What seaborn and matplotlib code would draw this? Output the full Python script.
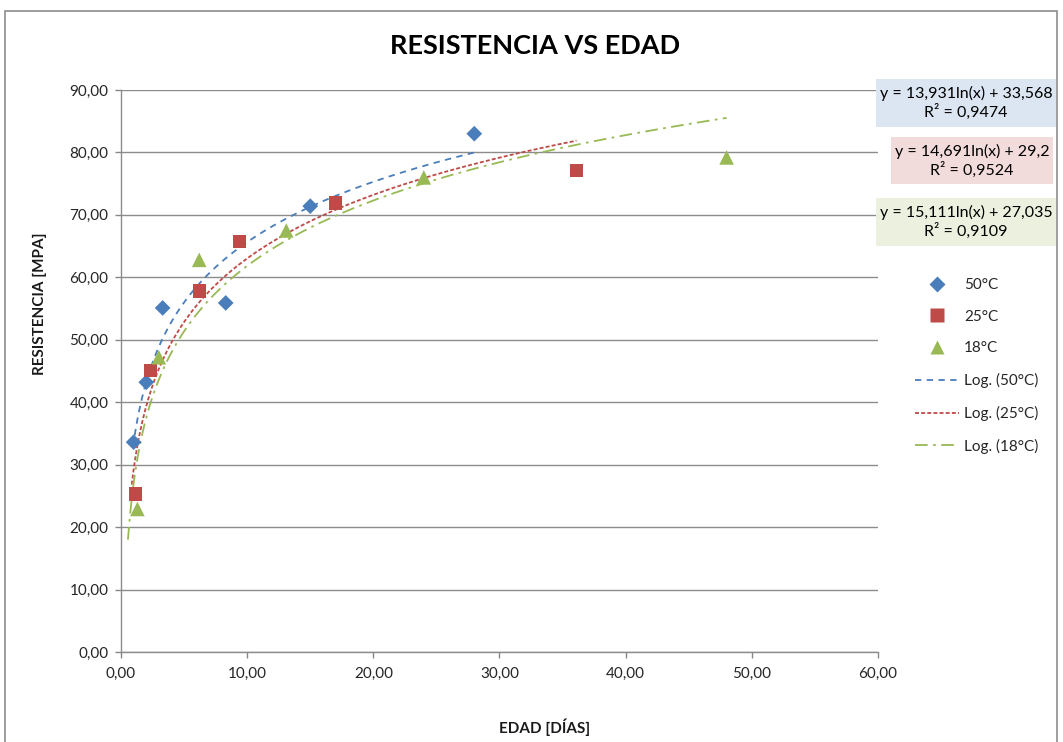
import numpy as np
import pandas as pd
import matplotlib
matplotlib.use("Agg")
from matplotlib import pyplot as plt
from matplotlib.lines import Line2D
from matplotlib.patches import Rectangle
from matplotlib.ticker import FuncFormatter, MultipleLocator
import seaborn as sns

# --- data ---
series_names = ["50°C", "25°C", "18°C"]

edad_50 = [1.0, 2.0, 3.3, 8.3, 15.0, 28.0]
res_50 = [33.6, 43.2, 55.1, 55.9, 71.4, 83.0]

edad_25 = [1.14, 2.35, 6.2, 9.4, 17.0, 36.1]
res_25 = [25.3, 45.1, 57.8, 65.8, 71.9, 77.1]

edad_18 = [1.3, 3.0, 6.2, 13.1, 24.0, 48.0]
res_18 = [22.9, 47.2, 62.8, 67.5, 76.0, 79.2]

# logarithmic trendlines y = a ln(x) + b as printed on the chart
slopes = [13.931, 14.691, 15.111]
intercepts = [33.568, 29.2, 27.035]
r2_values = [0.9474, 0.9524, 0.9109]
trend_start = [0.95, 0.85, 0.55]

colors = ["#4a7ebb", "#be4b48", "#98b954"]
box_colors = ["#dce6f2", "#f2dcdb", "#ebf1de"]
markers = ["D", "s", "^"]
marker_sizes = [64, 90, 110]
dash_styles = [(0, (3.5, 3)), (0, (2.2, 1.2)), (0, (7, 3, 1.5, 3))]

sns.set_theme(style="white")
plt.rcParams["font.family"] = ["Lato", "DejaVu Sans"]

W, H = 1063, 742
fig = plt.figure(figsize=(W / 100, H / 100), dpi=100)
ax = fig.add_axes([121 / W, 1 - 652 / H, (878 - 121) / W, (652 - 90) / H])

frames = []
for name, x, y in zip(series_names, [edad_50, edad_25, edad_18], [res_50, res_25, res_18]):
    frames.append(pd.DataFrame({"edad": x, "resistencia": y, "serie": name}))
df = pd.concat(frames, ignore_index=True)

# trendlines
for i, name in enumerate(series_names):
    x_max = df.loc[df["serie"] == name, "edad"].max()
    xs = np.linspace(trend_start[i], x_max, 300)
    ys = slopes[i] * np.log(xs) + intercepts[i]
    ax.plot(xs, ys, color=colors[i], lw=1.3, linestyle=dash_styles[i], zorder=2)

# points
for i, name in enumerate(series_names):
    sns.scatterplot(
        data=df[df["serie"] == name],
        x="edad",
        y="resistencia",
        marker=markers[i],
        color=colors[i],
        s=marker_sizes[i],
        edgecolor="none",
        ax=ax,
        zorder=3,
        legend=False,
    )

ax.set_xlim(0, 60)
ax.set_ylim(0, 90)
ax.xaxis.set_major_locator(MultipleLocator(10))
ax.yaxis.set_major_locator(MultipleLocator(10))
fmt = FuncFormatter(lambda v, p: f"{v:.2f}".replace(".", ","))
ax.xaxis.set_major_formatter(fmt)
ax.yaxis.set_major_formatter(fmt)
ax.tick_params(axis="both", labelsize=11, colors="#262626", length=4, width=1,
               direction="out", bottom=True, left=True)
ax.tick_params(axis="x", pad=7, color="#868686")
ax.tick_params(axis="y", pad=5, color="#868686")
ax.grid(axis="y", color="#8c8c8c", lw=1)
ax.set_axisbelow(True)
for s in ["top", "right"]:
    ax.spines[s].set_visible(False)
for s in ["left", "bottom"]:
    ax.spines[s].set_color("#8c8c8c")
    ax.spines[s].set_linewidth(1)

ax.set_xlabel("")
ax.set_ylabel("")
fig.text(545 / W, 1 - 727 / H, "EDAD [DÍAS]", ha="center", va="center",
         fontsize=11, fontweight="bold", color="#1a1a1a")
fig.text(40 / W, 1 - 304 / H, "RESISTENCIA [MPA]", ha="center", va="center",
         rotation=90, fontsize=11, fontweight="bold", color="#1a1a1a")
fig.text(535 / W, 1 - 46 / H, "RESISTENCIA VS EDAD", ha="center", va="center",
         fontsize=19.5, fontweight="bold", color="#000000")

# equation boxes
boxes = [(876, 79, 1056, 127), (891, 137, 1053, 184), (876, 198, 1056, 246)]
for i, (x0, y0, x1, y1) in enumerate(boxes):
    fig.patches.append(Rectangle((x0 / W, 1 - y1 / H), (x1 - x0) / W, (y1 - y0) / H,
                                 transform=fig.transFigure, facecolor=box_colors[i],
                                 edgecolor="none", zorder=1))
    a = f"{slopes[i]:g}".replace(".", ",")
    b = f"{intercepts[i]:g}".replace(".", ",")
    r = f"{r2_values[i]:g}".replace(".", ",")
    fig.text((x0 + x1) / 2 / W, 1 - (y0 + y1) / 2 / H,
             f"y = {a}ln(x) + {b}\nR² = {r}", ha="center", va="center",
             multialignment="center", fontsize=11.5, color="#000000",
             linespacing=1.2, zorder=2)

# legend
handles = []
for i, name in enumerate(series_names):
    handles.append(Line2D([], [], marker=markers[i], color=colors[i], linestyle="none",
                          markersize=np.sqrt(marker_sizes[i]), markeredgecolor="none",
                          label=name))
for i, name in enumerate(series_names):
    handles.append(Line2D([], [], color=colors[i], lw=1.3, linestyle=dash_styles[i],
                          label=f"Log. ({name})"))
ax.legend(handles=handles, loc="upper left", bbox_to_anchor=(915 / W, 1 - 278 / H),
          bbox_transform=fig.transFigure, frameon=False, fontsize=11,
          labelspacing=1.16, handlelength=2.9, handletextpad=0.3, borderpad=0,
          borderaxespad=0)

# chart area border
fig.patches.append(Rectangle((5 / W, -0.05), (1057 - 5) / W, 1.05 - 10.7 / H,
                             transform=fig.transFigure, fill=False,
                             edgecolor="#8c8c8c", lw=1.2))

fig.savefig("out.png", dpi=100)
